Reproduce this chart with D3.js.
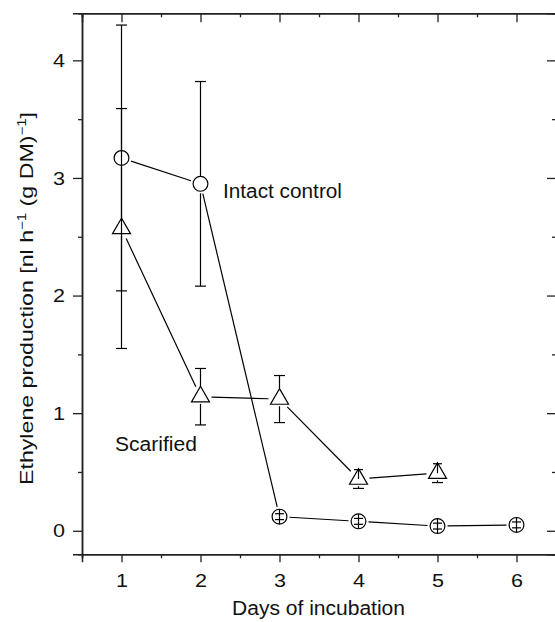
<!DOCTYPE html>
<html><head><meta charset="utf-8">
<script src="https://cdn.jsdelivr.net/npm/d3@7"></script>
<style>
html,body{margin:0;padding:0;background:#fff;}
svg{display:block;}
text{font-family:"Liberation Sans",Arial,Helvetica,sans-serif;fill:#111;}
</style></head>
<body>
<script>
// ---- data ----
const days = [1, 2, 3, 4, 5, 6];
const intactValues = [3.17, 2.95, 0.12, 0.08, 0.04, 0.05];
const intactErrors = [1.13, 0.87, 0.025, 0.025, 0.025, 0.025];
const scarifiedDays = [1, 2, 3, 4, 5];
const scarifiedValues = [2.57, 1.14, 1.12, 0.44, 0.49];
const scarifiedErrors = [1.02, 0.24, 0.20, 0.08, 0.08];
const xTicks = [1, 2, 3, 4, 5, 6];
const yTicks = [0, 1, 2, 3, 4];
const xLabel = "Days of incubation";
const intactLabel = "Intact control";
const scarifiedLabel = "Scarified";

const W = 555, H = 622;
const L = 82, R = 556, T = 13.3, B = 554.3;

const svg = d3.select("body").append("svg").attr("width", W).attr("height", H);
const x = d3.scaleLinear().domain([0.5, 6.5]).range([L, R]);
const y = d3.scaleLinear().domain([-0.2, 4.4]).range([B, T]);

const axisColor = "#222";
const minorX = d3.range(0.5, 6.51, 0.5).filter(v => !Number.isInteger(v));
const minorY = d3.range(0.5, 4.01, 0.5).filter(v => !Number.isInteger(v));

// bottom axis
const gb = svg.append("g").attr("transform", `translate(0,${B})`);
gb.call(d3.axisBottom(x).tickValues(xTicks).tickSize(8).tickPadding(11).tickFormat(d3.format("d")));
gb.append("g").call(d3.axisBottom(x).tickValues(minorX).tickSize(4).tickFormat(""));
// top axis (ticks pointing in)
const gt = svg.append("g").attr("transform", `translate(0,${T})`);
gt.call(d3.axisBottom(x).tickValues(xTicks).tickSize(9).tickFormat(""));
gt.append("g").call(d3.axisBottom(x).tickValues(minorX).tickSize(4).tickFormat(""));
// left axis
const gl = svg.append("g").attr("transform", `translate(${L},0)`);
gl.call(d3.axisLeft(y).tickValues(yTicks).tickSize(9).tickPadding(8).tickFormat(d3.format("d")));
gl.append("g").call(d3.axisLeft(y).tickValues(minorY).tickSize(4).tickFormat(""));
// right axis (ticks pointing in)
const gr = svg.append("g").attr("transform", `translate(${R},0)`);
gr.call(d3.axisLeft(y).tickValues(yTicks).tickSize(9).tickFormat(""));
gr.append("g").call(d3.axisLeft(y).tickValues(minorY).tickSize(4).tickFormat(""));

svg.selectAll(".domain").attr("stroke", axisColor).attr("stroke-width", 1.5);
svg.selectAll(".tick line").attr("stroke", axisColor).attr("stroke-width", 1.3);
svg.selectAll(".tick text").attr("font-size", 19).attr("fill", "#111")
  .attr("textLength", 12).attr("lengthAdjust", "spacingAndGlyphs")
  .style("font-family", '"Liberation Sans",Arial,sans-serif');

// ---- series ----
const intact = days.map((d, i) => ({d, v: intactValues[i], e: intactErrors[i]}));
const scar = scarifiedDays.map((d, i) => ({d, v: scarifiedValues[i], e: scarifiedErrors[i]}));

const circR = 7.4, triSide = 18;
const triH = triSide * Math.sqrt(3) / 2;
const plot = svg.append("g");

function trimmedSegments(data, gap) {
  const segs = [];
  for (let i = 0; i < data.length - 1; i++) {
    const x1 = x(data[i].d), y1 = y(data[i].v), x2 = x(data[i+1].d), y2 = y(data[i+1].v);
    const dx = x2 - x1, dy = y2 - y1, len = Math.hypot(dx, dy);
    const ux = dx / len, uy = dy / len;
    segs.push([x1 + ux*gap, y1 + uy*gap, x2 - ux*gap, y2 - uy*gap]);
  }
  return segs;
}
function drawLines(data, gap) {
  plot.selectAll(null).data(trimmedSegments(data, gap)).enter().append("line")
    .attr("x1", s => s[0]).attr("y1", s => s[1]).attr("x2", s => s[2]).attr("y2", s => s[3])
    .attr("stroke", "#000").attr("stroke-width", 1.2);
}
drawLines(intact, 10);
drawLines(scar, 11);

function drawErr(data, topOff, botOff, fullInside) {
  data.forEach(p => {
    const cx = x(p.d), cy = y(p.v), yt = y(p.v + p.e), yb = y(p.v - p.e);
    const g = plot.append("g").attr("stroke", "#000").attr("stroke-width", 1.2);
    const capW = 5.5;
    if (cy - yt > topOff) {
      g.append("line").attr("x1", cx).attr("x2", cx).attr("y1", yt).attr("y2", cy - topOff);
      g.append("line").attr("x1", cx - capW).attr("x2", cx + capW).attr("y1", yt).attr("y2", yt);
    } else {
      g.append("line").attr("x1", cx).attr("x2", cx).attr("y1", fullInside ? cy - topOff : yt).attr("y2", cy);
      g.append("line").attr("x1", cx - capW + 1).attr("x2", cx + capW - 1).attr("y1", yt).attr("y2", yt);
    }
    if (yb - cy > botOff) {
      g.append("line").attr("x1", cx).attr("x2", cx).attr("y1", cy + botOff + 2).attr("y2", yb);
      g.append("line").attr("x1", cx - capW).attr("x2", cx + capW).attr("y1", yb).attr("y2", yb);
    } else {
      g.append("line").attr("x1", cx).attr("x2", cx).attr("y1", cy).attr("y2", fullInside ? cy + botOff : yb);
      g.append("line").attr("x1", cx - capW + 1).attr("x2", cx + capW - 1).attr("y1", yb).attr("y2", yb);
    }
  });
}
drawErr(intact, circR, circR, true);
drawErr(scar, triH * 2/3, triH / 3, false);

// markers
plot.selectAll(null).data(intact).enter().append("circle")
  .attr("cx", p => x(p.d)).attr("cy", p => y(p.v)).attr("r", circR)
  .attr("fill", "none").attr("stroke", "#000").attr("stroke-width", 1.2);
plot.selectAll(null).data(scar).enter().append("path")
  .attr("d", p => {
    const cx = x(p.d), cy = y(p.v);
    return `M${cx},${cy - triH*2/3}L${cx + triSide/2},${cy + triH/3}L${cx - triSide/2},${cy + triH/3}Z`;
  })
  .attr("fill", "none").attr("stroke", "#000").attr("stroke-width", 1.2);

// annotations
svg.append("text").attr("x", 223).attr("y", 198).attr("font-size", 20)
  .attr("textLength", 119).attr("lengthAdjust", "spacingAndGlyphs").text(intactLabel);
svg.append("text").attr("x", 115).attr("y", 451).attr("font-size", 20)
  .attr("textLength", 82).attr("lengthAdjust", "spacingAndGlyphs").text(scarifiedLabel);

// axis titles
svg.append("text").attr("x", 232).attr("y", 615).attr("font-size", 20)
  .attr("textLength", 173).attr("lengthAdjust", "spacingAndGlyphs").text(xLabel);

const yl = svg.append("text").attr("transform", "translate(33,485) rotate(-90)")
  .attr("font-size", 18.5).attr("textLength", 373).attr("lengthAdjust", "spacingAndGlyphs");
yl.append("tspan").text("Ethylene production [nl h");
yl.append("tspan").attr("font-size", 12).attr("dy", -7).text("\u22121");
yl.append("tspan").attr("dy", 7).text(" (g DM)");
yl.append("tspan").attr("font-size", 12).attr("dy", -7).text("\u22121");
yl.append("tspan").attr("dy", 7).text("]");
</script>
</body></html>
